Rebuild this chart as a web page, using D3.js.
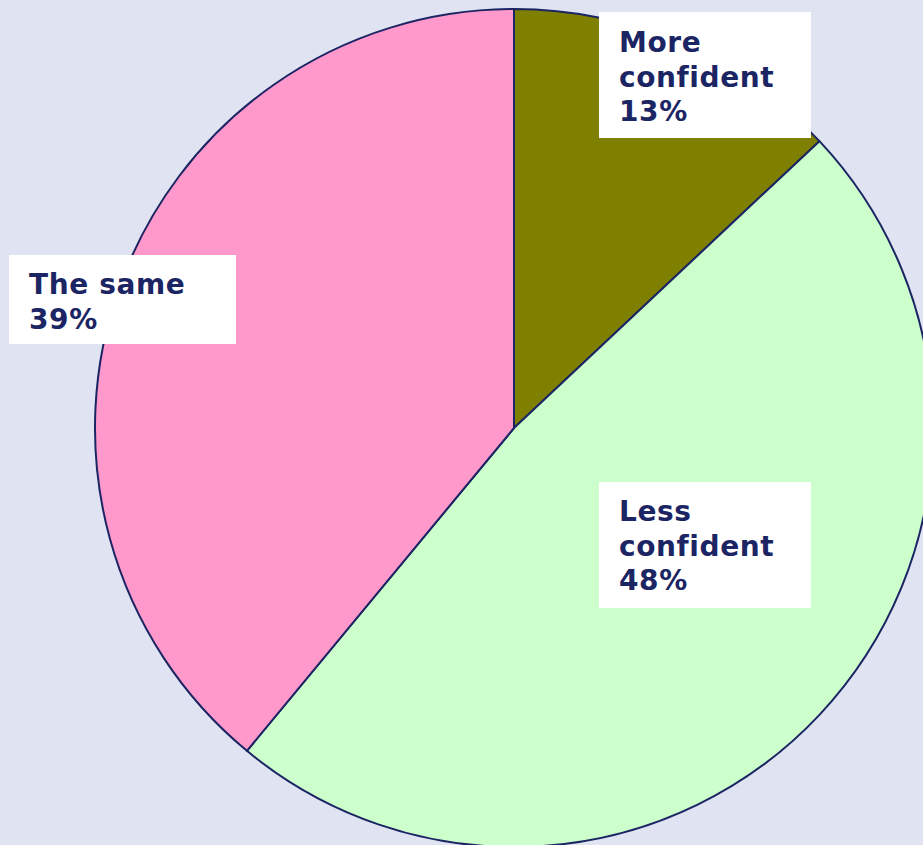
<!DOCTYPE html>
<html><head><meta charset="utf-8">
<script src="https://cdn.jsdelivr.net/npm/d3@7"></script>
<style>html,body{margin:0;padding:0;background:#dfe3f2;overflow:hidden}</style>
</head><body>
<svg id="c" width="923" height="845"></svg>
<script>
const categories = ["More confident", "Less confident", "The same"];
const values = [13, 48, 39];
const labelLines = [["More", "confident", "13%"], ["Less", "confident", "48%"], ["The same", "39%"]];
const colors = ["#808000", "#ccffcc", "#ff99cc"];

const svg = d3.select("#c");
const cx = 514, cy = 428, r = 419;
const pie = d3.pie().sort(null).value(d => d)(values);
const arc = d3.arc().innerRadius(0).outerRadius(r);
const g = svg.append("g").attr("transform", `translate(${cx},${cy})`);
g.selectAll("path").data(pie).join("path")
  .attr("d", arc)
  .attr("fill", (d, i) => colors[i])
  .attr("stroke", "#1c2563")
  .attr("stroke-width", 2)
  .attr("stroke-linejoin", "round");

const boxes = [
  {x: 599, y: 12, w: 212, h: 126, tx: 619, ty: 52},
  {x: 599, y: 482, w: 212, h: 126, tx: 619, ty: 521},
  {x: 9, y: 255, w: 227, h: 89, tx: 29, ty: 294}
];
const lg = svg.append("g");
boxes.forEach((b, i) => {
  lg.append("rect").attr("x", b.x).attr("y", b.y).attr("width", b.w).attr("height", b.h).attr("fill", "#ffffff");
  const t = lg.append("text").attr("x", b.tx).attr("y", b.ty)
    .attr("font-family", "DejaVu Sans, Verdana, sans-serif")
    .attr("font-weight", "bold").attr("font-size", 28).attr("letter-spacing", 0.6).attr("fill", "#1c2563");
  labelLines[i].forEach((l, j) => {
    t.append("tspan").attr("x", b.tx).attr("dy", j === 0 ? 0 : 34.5).text(l);
  });
});
</script>
</body></html>
